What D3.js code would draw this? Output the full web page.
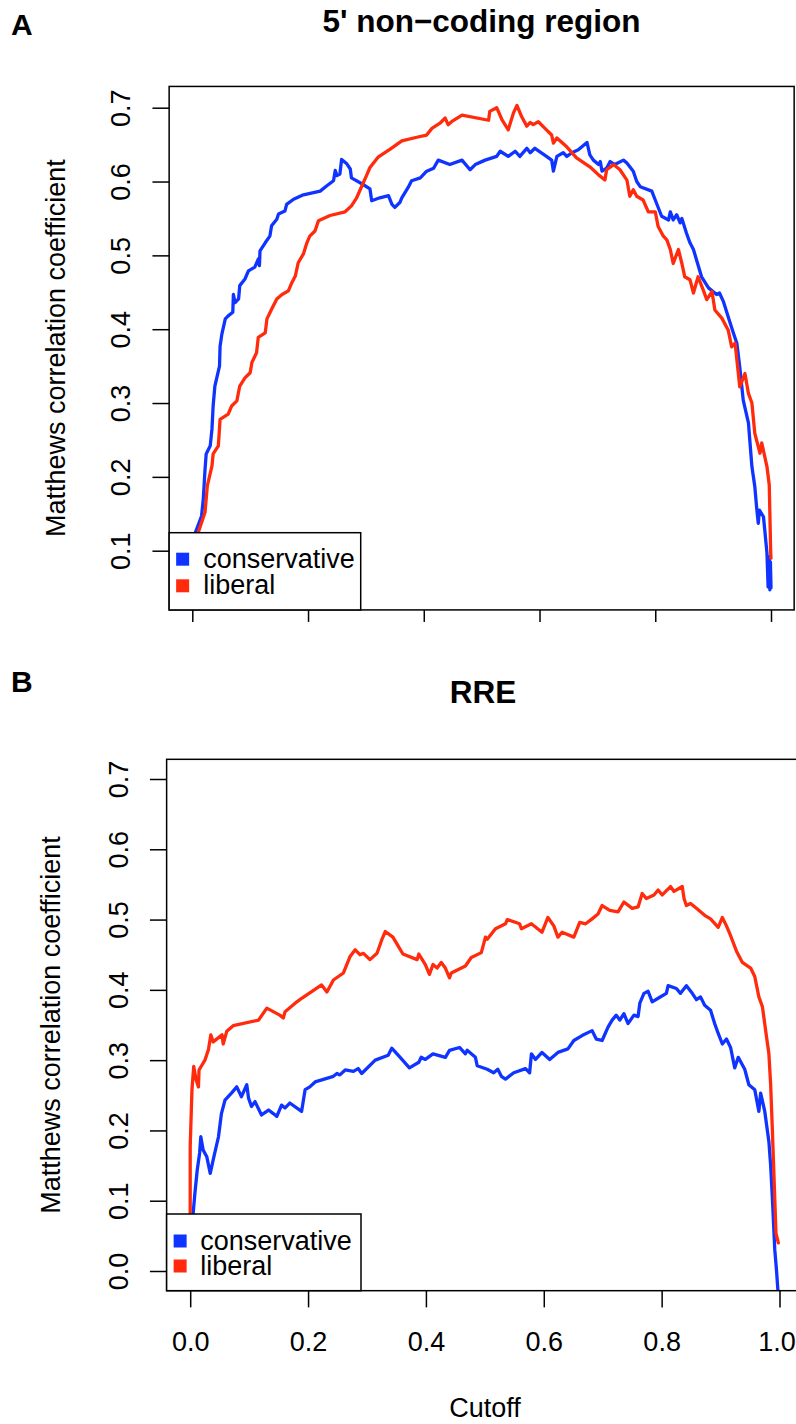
<!DOCTYPE html>
<html>
<head>
<meta charset="utf-8">
<script src="https://cdn.jsdelivr.net/npm/d3@7"></script>
<style>
  html, body { margin: 0; padding: 0; background: #ffffff; }
  svg { display: block; font-family: "Liberation Sans", Arial, Helvetica, sans-serif; }
</style>
</head>
<body>
<svg id="chart" width="796" height="1424"></svg>
<script>
// ---- data: Matthews correlation coefficient vs. cutoff -------------------
const seriesNames = ["conservative", "liberal"];
const seriesColors = ["#1034ff", "#ff2b0c"];
const xTicks = [0, 0.2, 0.4, 0.6, 0.8, 1.0];
const yTicksA = [0.1, 0.2, 0.3, 0.4, 0.5, 0.6, 0.7];
const yTicksB = [0.0, 0.1, 0.2, 0.3, 0.4, 0.5, 0.6, 0.7];
const titleA = "5' non\u2212coding region";
const titleB = "RRE";

// panel A, 5' non-coding region: [cutoff, MCC]
const nonCodingConservative = [
  [0.000,0.060],[0.004,0.110],[0.005,0.124],[0.016,0.147],[0.019,0.170],[0.022,0.210],[0.024,0.231],
  [0.031,0.242],[0.034,0.265],[0.036,0.296],[0.039,0.323],[0.047,0.350],[0.048,0.377],[0.051,0.393],
  [0.057,0.414],[0.062,0.418],[0.070,0.423],[0.071,0.447],[0.074,0.436],[0.080,0.441],[0.082,0.459],
  [0.091,0.468],[0.097,0.479],[0.108,0.484],[0.114,0.495],[0.116,0.486],[0.117,0.506],[0.126,0.517],
  [0.134,0.526],[0.137,0.540],[0.146,0.549],[0.149,0.556],[0.160,0.560],[0.163,0.569],[0.175,0.576],
  [0.192,0.582],[0.221,0.587],[0.232,0.594],[0.244,0.601],[0.247,0.615],[0.250,0.608],[0.255,0.610],
  [0.258,0.630],[0.267,0.624],[0.273,0.617],[0.275,0.605],[0.293,0.597],[0.307,0.590],[0.310,0.574],
  [0.324,0.578],[0.339,0.581],[0.345,0.569],[0.350,0.565],[0.359,0.572],[0.362,0.578],[0.373,0.592],
  [0.379,0.601],[0.394,0.605],[0.405,0.614],[0.417,0.618],[0.425,0.629],[0.445,0.623],[0.466,0.629],
  [0.480,0.616],[0.489,0.623],[0.506,0.629],[0.526,0.634],[0.532,0.641],[0.546,0.634],[0.558,0.641],
  [0.566,0.634],[0.578,0.645],[0.584,0.639],[0.592,0.645],[0.612,0.634],[0.621,0.629],[0.624,0.614],
  [0.630,0.634],[0.641,0.639],[0.647,0.634],[0.656,0.639],[0.667,0.643],[0.682,0.653],[0.687,0.636],
  [0.693,0.629],[0.702,0.623],[0.705,0.627],[0.708,0.614],[0.716,0.618],[0.722,0.627],[0.730,0.623],
  [0.745,0.629],[0.751,0.625],[0.756,0.620],[0.762,0.614],[0.768,0.600],[0.774,0.593],[0.794,0.587],
  [0.800,0.575],[0.811,0.553],[0.823,0.548],[0.826,0.559],[0.831,0.548],[0.837,0.555],[0.843,0.544],
  [0.846,0.550],[0.854,0.530],[0.860,0.517],[0.866,0.508],[0.872,0.492],[0.880,0.471],[0.892,0.456],
  [0.906,0.447],[0.911,0.449],[0.918,0.437],[0.926,0.417],[0.935,0.395],[0.941,0.381],[0.946,0.349],
  [0.952,0.304],[0.961,0.273],[0.967,0.214],[0.972,0.187],[0.975,0.160],[0.978,0.137],[0.980,0.155],
  [0.987,0.146],[0.993,0.097],[0.995,0.051],[0.997,0.092],[0.998,0.047],[0.999,0.085],[1.000,0.050]
];
const nonCodingLiberal = [
  [0.000,0.050],[0.008,0.105],[0.010,0.124],[0.022,0.152],[0.026,0.188],[0.034,0.215],[0.036,0.231],
  [0.045,0.242],[0.048,0.278],[0.062,0.285],[0.068,0.296],[0.077,0.303],[0.082,0.323],[0.091,0.334],
  [0.100,0.341],[0.103,0.355],[0.111,0.368],[0.114,0.389],[0.126,0.395],[0.129,0.414],[0.137,0.427],
  [0.146,0.441],[0.155,0.447],[0.166,0.452],[0.172,0.463],[0.178,0.472],[0.183,0.490],[0.192,0.502],
  [0.198,0.517],[0.203,0.526],[0.212,0.533],[0.218,0.547],[0.238,0.554],[0.264,0.559],[0.275,0.567],
  [0.284,0.578],[0.293,0.594],[0.301,0.608],[0.307,0.619],[0.321,0.633],[0.342,0.644],[0.362,0.655],
  [0.388,0.660],[0.405,0.663],[0.414,0.672],[0.428,0.679],[0.437,0.686],[0.442,0.677],[0.448,0.681],
  [0.466,0.690],[0.512,0.683],[0.514,0.695],[0.526,0.700],[0.535,0.684],[0.546,0.670],[0.555,0.693],
  [0.561,0.703],[0.569,0.688],[0.578,0.675],[0.584,0.680],[0.589,0.677],[0.598,0.681],[0.612,0.670],
  [0.621,0.663],[0.624,0.652],[0.630,0.659],[0.647,0.647],[0.664,0.632],[0.687,0.620],[0.702,0.609],
  [0.713,0.602],[0.716,0.616],[0.728,0.623],[0.739,0.616],[0.751,0.602],[0.756,0.580],[0.762,0.589],
  [0.768,0.580],[0.779,0.575],[0.788,0.559],[0.800,0.559],[0.805,0.539],[0.814,0.526],[0.820,0.521],
  [0.826,0.508],[0.831,0.489],[0.840,0.508],[0.846,0.489],[0.851,0.471],[0.860,0.467],[0.866,0.449],
  [0.874,0.471],[0.883,0.453],[0.889,0.440],[0.898,0.451],[0.903,0.426],[0.915,0.415],[0.926,0.399],
  [0.932,0.376],[0.938,0.381],[0.946,0.322],[0.955,0.340],[0.961,0.313],[0.967,0.300],[0.972,0.259],
  [0.981,0.232],[0.984,0.246],[0.993,0.214],[0.997,0.189],[0.9995,0.097],[1.000,0.090]
];

// panel B, RRE: [cutoff, MCC]
const rreConservative = [
  [0.004,-0.040],[0.005,0.082],[0.008,0.111],[0.012,0.144],[0.016,0.168],[0.018,0.191],[0.022,0.172],
  [0.028,0.163],[0.034,0.139],[0.039,0.158],[0.048,0.191],[0.053,0.224],[0.059,0.243],[0.070,0.253],
  [0.079,0.262],[0.087,0.248],[0.096,0.265],[0.099,0.246],[0.104,0.234],[0.110,0.241],[0.121,0.222],
  [0.133,0.229],[0.141,0.224],[0.147,0.220],[0.155,0.236],[0.161,0.232],[0.169,0.239],[0.189,0.227],
  [0.195,0.258],[0.203,0.262],[0.212,0.269],[0.243,0.277],[0.249,0.281],[0.254,0.279],[0.263,0.286],
  [0.277,0.284],[0.285,0.288],[0.291,0.281],[0.314,0.300],[0.336,0.307],[0.342,0.317],[0.354,0.306],
  [0.372,0.289],[0.388,0.297],[0.392,0.304],[0.399,0.301],[0.412,0.309],[0.433,0.304],[0.440,0.314],
  [0.457,0.318],[0.467,0.309],[0.470,0.314],[0.484,0.304],[0.487,0.292],[0.504,0.287],[0.515,0.282],
  [0.522,0.287],[0.528,0.277],[0.535,0.273],[0.549,0.282],[0.569,0.288],[0.576,0.282],[0.579,0.309],
  [0.586,0.301],[0.597,0.311],[0.610,0.301],[0.624,0.311],[0.641,0.316],[0.651,0.328],[0.665,0.335],
  [0.682,0.342],[0.689,0.330],[0.699,0.328],[0.709,0.347],[0.716,0.357],[0.723,0.364],[0.729,0.357],
  [0.736,0.366],[0.743,0.352],[0.753,0.364],[0.760,0.362],[0.763,0.381],[0.770,0.395],[0.777,0.398],
  [0.784,0.383],[0.794,0.388],[0.808,0.395],[0.811,0.406],[0.825,0.402],[0.832,0.395],[0.842,0.406],
  [0.852,0.395],[0.859,0.386],[0.866,0.390],[0.873,0.378],[0.883,0.371],[0.890,0.352],[0.896,0.338],
  [0.903,0.323],[0.910,0.330],[0.917,0.318],[0.924,0.289],[0.930,0.304],[0.941,0.287],[0.948,0.265],
  [0.958,0.258],[0.965,0.227],[0.968,0.253],[0.975,0.227],[0.982,0.184],[0.985,0.150],[0.988,0.102],
  [0.992,0.030],[0.995,0.000],[1.000,-0.060]
];
const rreLiberal = [
  [0.000,-0.040],[0.000,0.083],[0.000,0.177],[0.003,0.258],[0.006,0.291],[0.010,0.272],[0.014,0.262],
  [0.015,0.286],[0.025,0.300],[0.031,0.315],[0.035,0.336],[0.039,0.326],[0.054,0.336],[0.056,0.323],
  [0.062,0.341],[0.073,0.349],[0.116,0.357],[0.130,0.374],[0.152,0.364],[0.158,0.360],[0.161,0.369],
  [0.181,0.383],[0.186,0.386],[0.223,0.407],[0.232,0.397],[0.243,0.414],[0.260,0.424],[0.271,0.447],
  [0.280,0.457],[0.288,0.450],[0.294,0.452],[0.305,0.443],[0.317,0.452],[0.325,0.471],[0.331,0.483],
  [0.344,0.475],[0.351,0.465],[0.361,0.451],[0.385,0.443],[0.388,0.451],[0.399,0.436],[0.406,0.422],
  [0.412,0.436],[0.419,0.431],[0.426,0.439],[0.433,0.431],[0.440,0.417],[0.443,0.424],[0.467,0.434],
  [0.477,0.446],[0.494,0.453],[0.501,0.475],[0.504,0.472],[0.518,0.487],[0.535,0.494],[0.538,0.500],
  [0.559,0.494],[0.562,0.487],[0.579,0.494],[0.597,0.482],[0.607,0.503],[0.617,0.491],[0.624,0.475],
  [0.631,0.482],[0.651,0.475],[0.661,0.496],[0.671,0.494],[0.682,0.501],[0.692,0.508],[0.699,0.520],
  [0.712,0.513],[0.726,0.511],[0.736,0.525],[0.750,0.516],[0.760,0.518],[0.767,0.537],[0.774,0.530],
  [0.787,0.535],[0.794,0.542],[0.801,0.535],[0.815,0.547],[0.821,0.540],[0.835,0.547],[0.838,0.530],
  [0.842,0.520],[0.849,0.523],[0.859,0.516],[0.873,0.506],[0.883,0.501],[0.896,0.489],[0.903,0.503],
  [0.910,0.491],[0.917,0.477],[0.927,0.455],[0.937,0.439],[0.951,0.431],[0.958,0.419],[0.965,0.390],
  [0.971,0.376],[0.978,0.333],[0.982,0.309],[0.985,0.265],[0.988,0.198],[0.992,0.102],[0.994,0.054],
  [0.998,0.040]
];

// ---- drawing ---------------------------------------------------------------
const svg = d3.select("#chart");
svg.append("rect").attr("width", 796).attr("height", 1424).attr("fill", "#ffffff");

const FONT = 27;

function drawPanel(cfg) {
  const x = d3.scaleLinear().domain([0, 1]).range(cfg.xRange);
  const y = d3.scaleLinear().domain(cfg.yDomain).range(cfg.yRange);
  const left = x(cfg.xLim[0]), right = x(cfg.xLim[1]);
  const top = y(cfg.yLim[1]), bottom = y(cfg.yLim[0]);

  const g = svg.append("g");
  const clipId = "clip-" + cfg.id;
  g.append("clipPath").attr("id", clipId)
    .append("rect").attr("x", left).attr("y", top)
    .attr("width", right - left).attr("height", bottom - top);

  // curves
  const line = d3.line().x(d => x(d[0])).y(d => y(d[1]));
  cfg.series.forEach((s, i) => {
    g.append("path")
      .datum(s)
      .attr("clip-path", `url(#${clipId})`)
      .attr("fill", "none")
      .attr("stroke", seriesColors[i])
      .attr("stroke-width", 3.3)
      .attr("stroke-linejoin", "round")
      .attr("stroke-linecap", "round")
      .attr("d", line);
  });

  // y axis
  const yAxis = g.append("g")
    .attr("transform", `translate(${left},0)`)
    .call(d3.axisLeft(y).tickValues(cfg.yTicks).tickFormat(d3.format(".1f"))
      .tickSize(16.7).tickSizeOuter(0));
  yAxis.select(".domain").remove();
  yAxis.selectAll(".tick line").attr("stroke", "#000").attr("stroke-width", 1.5);
  yAxis.selectAll(".tick text")
    .attr("x", null).attr("dy", null)
    .attr("text-anchor", "middle")
    .attr("transform", `translate(${cfg.yLabelX - left},0) rotate(-90)`)
    .attr("fill", "#000")
    .style("font-size", FONT + "px")
    .style("font-family", "'Liberation Sans', Arial, sans-serif");

  // x axis
  const xAxis = g.append("g")
    .attr("transform", `translate(0,${bottom})`)
    .call(d3.axisBottom(x).tickValues(xTicks).tickFormat(d3.format(".1f"))
      .tickSize(cfg.xTickLen).tickSizeOuter(0));
  xAxis.select(".domain").remove();
  xAxis.selectAll(".tick line").attr("stroke", "#000").attr("stroke-width", 1.5);
  if (cfg.showXLabels) {
    xAxis.selectAll(".tick text")
      .attr("y", cfg.xLabelBaseline - bottom).attr("dy", null)
      // keep the last label inside the page edge
      .attr("x", d => d === 1 ? -3 : 0)
      .attr("fill", "#000")
      .style("font-size", FONT + "px")
      .style("font-family", "'Liberation Sans', Arial, sans-serif");
  } else {
    xAxis.selectAll(".tick text").remove();
  }

  // frame
  g.append("rect")
    .attr("x", left).attr("y", top)
    .attr("width", right - left).attr("height", bottom - top)
    .attr("fill", "none").attr("stroke", "#000").attr("stroke-width", 1.5);

  // y axis title
  g.append("text")
    .attr("transform", `translate(${cfg.yTitleX},${(top + bottom) / 2}) rotate(-90)`)
    .attr("text-anchor", "middle")
    .style("font-size", FONT + "px")
    .text("Matthews correlation coefficient");

  // title and panel letter
  g.append("text")
    .attr("x", cfg.titleX).attr("y", cfg.titleBaseline)
    .attr("text-anchor", "middle")
    .style("font-size", "31.5px").style("font-weight", "bold")
    .text(cfg.title);
  g.append("text")
    .attr("x", 11).attr("y", cfg.letterBaseline)
    .style("font-size", "30px").style("font-weight", "bold")
    .text(cfg.letter);

  // legend (white box drawn over the curves)
  const lg = g.append("g");
  lg.append("rect")
    .attr("x", left).attr("y", cfg.legendTop)
    .attr("width", cfg.legendRight - left).attr("height", bottom - cfg.legendTop)
    .attr("fill", "#ffffff").attr("stroke", "#000").attr("stroke-width", 1.5);
  seriesNames.forEach((name, i) => {
    const base = cfg.legendBaselines[i];
    lg.append("rect")
      .attr("x", left + 7).attr("y", base - 15)
      .attr("width", 13).attr("height", 13)
      .attr("fill", seriesColors[i]);
    lg.append("text")
      .attr("x", cfg.legendTextX).attr("y", base)
      .style("font-size", FONT + "px")
      .text(name);
  });
}

drawPanel({
  id: "a", letter: "A", title: titleA,
  titleX: 481.5, titleBaseline: 32, letterBaseline: 35,
  xRange: [192.3, 771], xLim: [-0.04, 1.04],
  yDomain: [0.1, 0.7], yRange: [550.7, 107.7], yLim: [0.0198, 0.7288],
  yTicks: yTicksA, yLabelX: 130, yTitleX: 65,
  xTickLen: 12, showXLabels: false,
  series: [nonCodingConservative, nonCodingLiberal],
  legendTop: 532.7, legendRight: 360.7, legendTextX: 203.3,
  legendBaselines: [567.7, 594.3]
});

drawPanel({
  id: "b", letter: "B", title: titleB,
  titleX: 483, titleBaseline: 703, letterBaseline: 692,
  xRange: [190.2, 779.5], xLim: [-0.04, 1.04],
  yDomain: [0, 0.7], yRange: [1271, 779], yLim: [-0.028, 0.728],
  yTicks: yTicksB, yLabelX: 128, yTitleX: 60,
  xTickLen: 16.7, showXLabels: true, xLabelBaseline: 1351.5,
  series: [rreConservative, rreLiberal],
  legendTop: 1214, legendRight: 361, legendTextX: 200.2,
  legendBaselines: [1249.5, 1274.5]
});

// shared x axis title
svg.append("text")
  .attr("x", 485).attr("y", 1417)
  .attr("text-anchor", "middle")
  .style("font-size", FONT + "px")
  .text("Cutoff");
</script>
</body>
</html>
